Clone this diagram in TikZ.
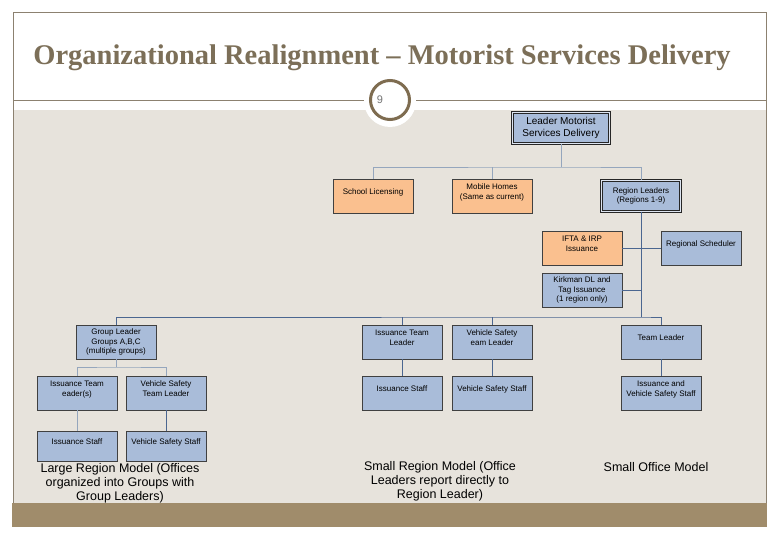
\documentclass[tikz,border=0pt]{standalone}
\usepackage{fontspec}
\setmainfont{Liberation Serif}
\setsansfont{Liberation Sans}
\usepackage{tikz}
\usetikzlibrary{positioning}
\usetikzlibrary{calc}

\definecolor{framegray}{HTML}{8C8170}
\definecolor{slidebeige}{HTML}{E7E3DC}
\definecolor{bandbrown}{HTML}{A08C6B}
\definecolor{titlebrown}{HTML}{7C6F58}
\definecolor{ringbrown}{HTML}{7E6C50}
\definecolor{boxblue}{HTML}{A9BCD9}
\definecolor{boxorange}{HTML}{FAC08F}
\definecolor{linkdark}{HTML}{4B6690}
\definecolor{linklight}{HTML}{95A6BD}

\tikzset{
    bluebox/.style={draw=black!75, fill=boxblue, line width=0.7pt,
        minimum width=80pt, minimum height=34pt, inner sep=1pt,
        align=center, font=\sffamily\fontsize{8}{9.6}\selectfont},
    orangebox/.style={bluebox, fill=boxorange},
    raised/.style={text depth=9pt},
    headbox/.style={bluebox, double=boxblue!40!white, double distance=1.2pt,
        line width=0.6pt, draw=black!85},
    linkhi/.style={draw=linklight, line width=0.8pt},
    linklo/.style={draw=linkdark, line width=0.8pt},
    caption/.style={align=center, font=\sffamily\fontsize{12.5}{14}\selectfont},
}

\begin{document}
\begin{tikzpicture}[x=1pt,y=-1pt]
\useasboundingbox (0,0) rectangle (780,540);
\fill[white] (0,0) rectangle (780,540);

% slide frame
\fill[slidebeige] (13,110) rectangle (766,503);
\fill[bandbrown] (12,503) rectangle (767,527);
\draw[framegray, line width=0.8pt] (13,503) -- (13,12) -- (766,12) -- (766,503);
\draw[framegray, line width=0.8pt] (13,100) -- (766,100);

\node[font=\bfseries\fontsize{28.5}{30}\selectfont, text=titlebrown] (title) at (382,58)
    {Organizational Realignment -- Motorist Services Delivery};

% page number
\fill[white] (390,101) circle (26);
\draw[ringbrown, line width=3pt, fill=white] (390,100) circle (19.5);
\node[font=\sffamily\fontsize{11}{12}\selectfont, text=black!55] (pgno) at (380,100) {9};

% top level
\node[headbox, minimum width=97pt, minimum height=31pt, font=\sffamily\fontsize{10}{12}\selectfont] (lead) at (561,128)
    {Leader Motorist\\ Services Delivery};
\node[orangebox, raised] (school) at (373,196) {School Licensing};
\node[orangebox, raised] (mobile) at (492,196) {Mobile Homes\\ (Same as current)};
\node[headbox, minimum width=79pt, minimum height=31pt] (region) at (641,196)
    {Region Leaders\\ (Regions 1-9)};

\node[orangebox, raised] (ifta) at (582,248) {IFTA \& IRP\\ Issuance};
\node[bluebox, raised] (sched) at (701,248) {Regional Scheduler};
\node[bluebox] (kirk) at (582,290) {Kirkman DL and\\ Tag Issuance\\ (1 region only)};

% large region
\node[bluebox] (group) at (116,342) {Group Leader\\ Groups A,B,C\\ (multiple groups)};
\node[bluebox, raised] (istl) at (77,393) {Issuance Team\\ eader(s)};
\node[bluebox, raised] (vstl) at (166,393) {Vehicle Safety\\ Team Leader};
\node[bluebox, raised, minimum height=30pt] (ist) at (77,446) {Issuance Staff};
\node[bluebox, raised, minimum height=30pt] (vst) at (166,446) {Vehicle Safety Staff};

% small region
\node[bluebox, raised] (itl) at (402,342) {Issuance Team\\ Leader};
\node[bluebox, raised] (vtl) at (492,342) {Vehicle Safety\\ eam Leader};
\node[bluebox, raised] (ist2) at (402,393) {Issuance Staff};
\node[bluebox, raised] (vst2) at (492,393) {Vehicle Safety Staff};

% small office
\node[bluebox, raised] (team) at (661,342) {Team Leader};
\node[bluebox, raised] (ivs) at (661,393) {Issuance and\\ Vehicle Safety Staff};

% connectors
\coordinate (busa) at (561,167);
\coordinate (busb) at (641,317);
\coordinate (busc) at (116,367);
\draw[linkhi] (lead.south) -- (busa);
\draw[linkhi] (school.north) |- (busa) -| (region.north);
\draw[linkhi] (mobile.north) -- (mobile.north |- busa);

\draw[linklo] (region.south) -- (busb);
\draw[linklo] (ifta.east) -- (sched.west);
\draw[linklo] (kirk.east) -- (kirk.east -| busb);
\draw[linklo] (group.north) |- (busb) -| (team.north);
\draw[linklo] (itl.north) -- (itl.north |- busb);
\draw[linklo] (vtl.north) -- (vtl.north |- busb);

\draw[linkhi] (group.south) -- (busc);
\draw[linkhi] (istl.north) |- (busc) -| (vstl.north);
\draw[linkhi] (istl.south) -- (ist.north);
\draw[linklo] (vstl.south) -- (vst.north);
\draw[linklo] (itl.south) -- (ist2.north);
\draw[linklo] (vtl.south) -- (vst2.north);
\draw[linklo] (team.south) -- (ivs.north);

% captions
\node[caption] (caplarge) at (120,483)
    {Large Region Model (Offices\\ organized into Groups with\\ Group Leaders)};
\node[caption] (capsmall) at (440,481)
    {Small Region Model (Office\\ Leaders report directly to\\ Region Leader)};
\node[caption] (capoffice) at (656,467) {Small Office Model};
\end{tikzpicture}
\end{document}
